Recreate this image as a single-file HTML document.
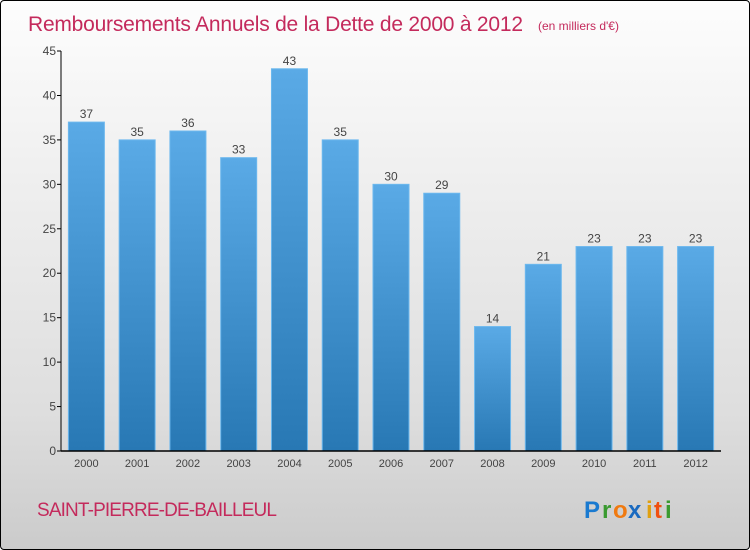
<!DOCTYPE html>
<html><head><meta charset="utf-8"><style>
body{margin:0}
#c{width:750px;height:550px;position:relative;box-sizing:border-box;border:1px solid #000;border-radius:4px;background:linear-gradient(#fdfdfd,#f0f0f0 30%,#dedede 75%,#cbcbcb);font-family:"Liberation Sans",sans-serif;overflow:hidden}
</style></head><body>
<div id="c">
<svg width="750" height="550" id="svg">
<text x="27" y="30" font-size="21" fill="#c42a5c" font-family="Liberation Sans" textLength="495">Remboursements Annuels de la Dette de 2000 à 2012</text>
<text x="537" y="29" font-size="12" fill="#c42a5c">(en milliers d'€)</text>
<text x="36" y="515" font-size="19" fill="#c42a5c" textLength="240">SAINT-PIERRE-DE-BAILLEUL</text>
<g font-size="24" font-weight="bold"><text x="583" y="517" fill="#1a7ad0">P</text><text x="601" y="517" fill="#3a9a30">r</text><text x="612" y="517" fill="#f07a10">o</text><text x="627" y="517" fill="#1a6ac0">x</text><text x="645" y="517" fill="#e0a010">i</text><text x="653" y="517" fill="#f05010">t</text><text x="664" y="517" fill="#3a9a30">i</text></g>
<defs><linearGradient id="bg" x1="0" y1="0" x2="0" y2="1"><stop offset="0" stop-color="#5aaae6"/><stop offset="1" stop-color="#2878b4"/></linearGradient></defs>
<g id="bars"></g>
</svg>
</div>
<script>
const categories=["2000","2001","2002","2003","2004","2005","2006","2007","2008","2009","2010","2011","2012"];
const values=[37,35,36,33,43,35,30,29,14,21,23,23,23];
const yTicks=[0,5,10,15,20,25,30,35,40,45];
const NS="http://www.w3.org/2000/svg";
const svg=document.getElementById('bars');
const x0=60,x1=720,y0=450,y1=50,yMax=45;
const y=v=>y0-(v/yMax)*(y0-y1);
const step=(x1-x0)/categories.length;
const xc=i=>x0+step*(i+0.5);
function mk(t,a){const e=document.createElementNS(NS,t);for(const k in a)e.setAttribute(k,a[k]);svg.appendChild(e);return e;}
yTicks.forEach(t=>{
 const l=mk('line',{x1:x0-4,x2:x0,y1:y(t),y2:y(t),stroke:'#000'});
 
 
 const tx=mk('text',{x:x0-5,y:y(t)+4,'text-anchor':'end','font-size':12,fill:'#444'});
 tx.textContent=t;
 
 
});
values.forEach((v,i)=>{
 const w=36;
 const r=mk('rect',{x:xc(i)-w/2,y:y(v),width:w,height:y0-y(v),fill:'url(#bg)',stroke:'#6cb8ee','stroke-width':1});
 
 
 const t=mk('text',{x:xc(i),y:y(v)-4,'text-anchor':'middle','font-size':12,fill:'#444'});
 t.textContent=v;
 
 
 const c=mk('text',{x:xc(i),y:y0+16,'text-anchor':'middle','font-size':11,fill:'#444'});
 c.textContent=categories[i];
 
 
});
const ya=mk('line',{x1:x0,x2:x0,y1:y1,y2:y0,stroke:'#000'});


const xa=mk('line',{x1:x0,x2:x1,y1:y0,y2:y0,stroke:'#000','stroke-width':1.5});


</script>
</body></html>
